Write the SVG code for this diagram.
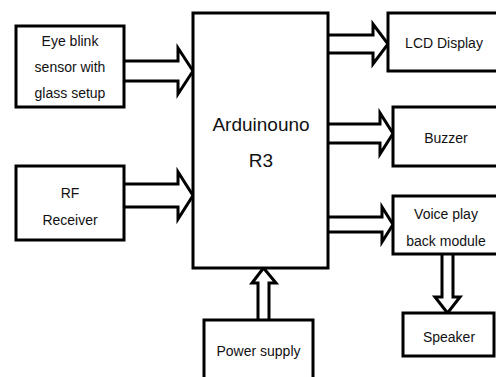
<svg xmlns="http://www.w3.org/2000/svg" width="496" height="377" viewBox="0 0 496 377">
<style>
.box{fill:#fff;stroke:#000;stroke-width:3}
.arr{fill:#fff;stroke:#000;stroke-width:3;stroke-linejoin:miter}
text{font-family:"Liberation Sans",Arial,sans-serif;font-size:14px;fill:#111;text-anchor:middle}
.big{font-size:19px}
</style>
<rect width="496" height="377" fill="#fff"/>
<g id="connectors">
<path class="arr" d="M124,61 H178 V48 L193,71 L178,94 V81 H124"/>
<path class="arr" d="M124,184 H178 V172 L193,195.5 L178,219 V207 H124"/>
<path class="arr" d="M328,35 H373 V24 L388,44 L373,64 V53 H328"/>
<path class="arr" d="M328,124 H380 V113 L393,133.5 L380,154 V143 H328"/>
<path class="arr" d="M328,217 H382 V207 L393,224.5 L382,242 V232 H328"/>
<path class="arr" d="M442,254 V297 H435 L447.5,313 L460,297 H453 V254"/>
<path class="arr" d="M258,320 V283 H252 L263.5,268 L276,283 H269 V320"/>
</g>
<g id="eye">
<rect class="box" x="16" y="26" width="108" height="81"/>
<text x="70" y="46">Eye blink</text>
<text x="70" y="72">sensor with</text>
<text x="70" y="98">glass setup</text>
</g>
<g id="rf">
<rect class="box" x="16" y="166" width="108" height="74"/>
<text x="70" y="198">RF</text>
<text x="70" y="225">Receiver</text>
</g>
<g id="arduino">
<rect class="box" x="193" y="13" width="135" height="255"/>
<text class="big" x="261" y="131">Arduinouno</text>
<text class="big" x="261" y="167">R3</text>
</g>
<g id="lcd">
<rect class="box" x="388" y="13" width="112" height="58"/>
<text x="444" y="48">LCD Display</text>
</g>
<g id="buzzer">
<rect class="box" x="393" y="107" width="107" height="59"/>
<text x="446" y="143">Buzzer</text>
</g>
<g id="voice">
<rect class="box" x="393" y="196" width="107" height="58"/>
<text x="446" y="219">Voice play</text>
<text x="446" y="246">back module</text>
</g>
<g id="speaker">
<rect class="box" x="403" y="313" width="91" height="43"/>
<text x="449" y="342">Speaker</text>
</g>
<g id="power">
<rect class="box" x="204" y="320" width="109" height="62"/>
<text x="258.5" y="356">Power supply</text>
</g>
</svg>
